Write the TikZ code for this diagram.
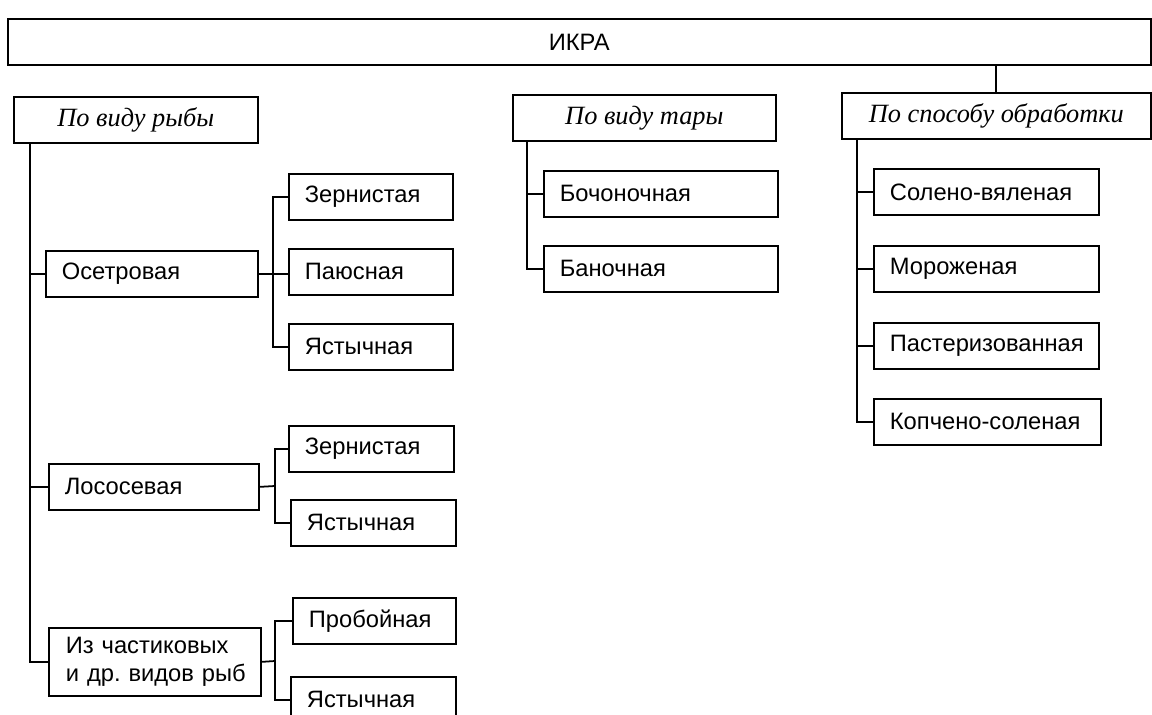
\documentclass[tikz,border=0pt]{standalone}
\usepackage{fontspec}
\setmainfont{Liberation Sans}
\newfontfamily\catfont{Liberation Serif}
\frenchspacing

\begin{document}
\begin{tikzpicture}[x=0.02cm, y=-0.02cm, line width=1pt,
  box/.style={draw, anchor=north west, inner xsep=0.32cm, inner ysep=0pt, minimum height=0.92cm, align=left, font=\fontsize{13.5}{16}\selectfont},
  head/.style={draw, anchor=north west, inner sep=0pt, minimum height=0.92cm, font=\catfont\itshape\fontsize{15}{17}\selectfont}]
\useasboundingbox (0,0) rectangle (1152,715);
% root and groups
\node[head, font=\fontsize{13.5}{16}\selectfont, minimum width=22.86cm] (ikra) at (7,18) {ИКРА};
\node[head, minimum width=4.88cm] (fish) at (13,96) {По виду рыбы};
\node[head, minimum width=5.26cm] (tara) at (512,94) {По виду тары};
\node[head, minimum width=6.18cm] (proc) at (841,92) {По способу обработки};
\draw (ikra.south -| proc.north) -- (proc.north);
% by fish
\node[box, text width=3.6cm] (oset) at (45,250) {Осетровая};
\node[box, text width=3.56cm] (losos) at (48,463) {Лососевая};
\node[box, inner xsep=0.1cm, text width=4.04cm, minimum height=1.36cm, font=\fontsize{13.5}{15.5}\selectfont] (chast) at (48,627) {\hspace*{0.24cm}Из частиковых\\\hspace*{0.24cm}и др. видов рыб};
\draw ([xshift=0.34cm]fish.south west) |- (oset.west);
\draw ([xshift=0.34cm]fish.south west) |- (losos.west);
\draw ([xshift=0.34cm]fish.south west) |- (chast.west);
% sturgeon
\node[box, text width=2.64cm] (zern1) at (288,173) {Зернистая};
\node[box, text width=2.64cm] (payus) at (288,248) {Паюсная};
\node[box, text width=2.64cm] (yast1) at (288,323) {Ястычная};
\coordinate (osetfork) at (273,273);
\draw (oset.east) -- (oset.east -| payus.west);
\draw (zern1.west) -| (osetfork) |- (yast1.west);
% salmon
\node[box, text width=2.66cm] (zern2) at (288,425) {Зернистая};
\node[box, text width=2.66cm] (yast2) at (290,499) {Ястычная};
\coordinate (lososfork) at (275,486);
\draw (losos.east) -- (lososfork);
\draw (zern2.west) -| (lososfork) |- (yast2.west);
% other fish
\node[box, text width=2.62cm] (prob) at (292,597) {Пробойная};
\node[box, text width=2.66cm] (yast3) at (290,676) {Ястычная};
\coordinate (chastfork) at (275,661);
\draw (chast.east) -- (chastfork);
\draw (prob.west) -| (chastfork) |- (yast3.west);
% by package
\node[box, text width=4.04cm] (boch) at (543,170) {Бочоночная};
\node[box, text width=4.04cm] (banoch) at (543,245) {Баночная};
\draw ([xshift=0.3cm]tara.south west) |- (boch.west);
\draw ([xshift=0.3cm]tara.south west) |- (banoch.west);
% by processing
\node[box, text width=3.86cm] (solen) at (873,168) {Солено-вяленая};
\node[box, text width=3.86cm] (moroz) at (873,245) {Мороженая};
\node[box, text width=3.86cm] (paster) at (873,322) {Пастеризованная};
\node[box, text width=3.9cm] (kopch) at (873,398) {Копчено-соленая};
\draw ([xshift=0.32cm]proc.south west) |- (solen.west);
\draw ([xshift=0.32cm]proc.south west) |- (moroz.west);
\draw ([xshift=0.32cm]proc.south west) |- (paster.west);
\draw ([xshift=0.32cm]proc.south west) |- (kopch.west);
\end{tikzpicture}
\end{document}
